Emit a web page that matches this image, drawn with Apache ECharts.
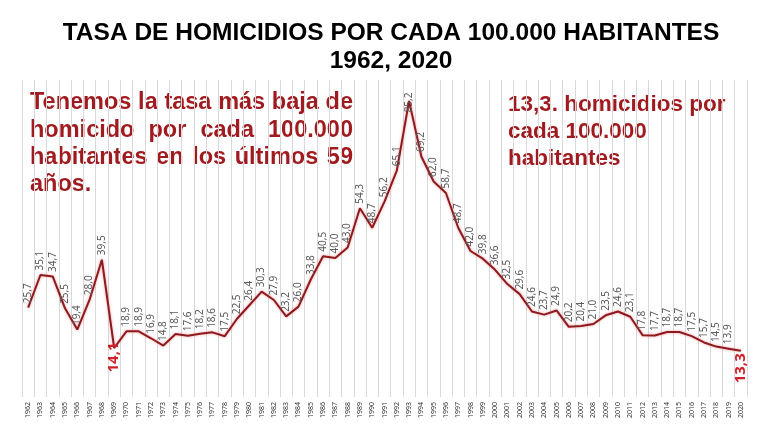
<!DOCTYPE html>
<html>
<head>
<meta charset="utf-8">
<script src="https://cdn.jsdelivr.net/npm/echarts@6/dist/echarts.min.js"></script>
<style>
html,body{margin:0;padding:0;background:#fff;}
#chart{width:765px;height:444px;}
</style>
</head>
<body>
<div id="chart"></div>
<script>
const years = ['1962','1963','1964','1965','1966','1967','1968','1969','1970','1971','1972','1973','1974','1975','1976','1977','1978','1979','1980','1981','1982','1983','1984','1985','1986','1987','1988','1989','1990','1991','1992','1993','1994','1995','1996','1997','1998','1999','2000','2001','2002','2003','2004','2005','2006','2007','2008','2009','2010','2011','2012','2013','2014','2015','2016','2017','2018','2019','2020'];
const rates = [25.7,35.1,34.7,25.5,19.4,28.0,39.5,14.1,18.9,18.9,16.9,14.8,18.1,17.6,18.2,18.6,17.5,22.5,26.4,30.3,27.9,23.2,26.0,33.8,40.5,40.0,43.0,54.3,48.7,56.2,65.1,85.2,69.2,62.0,58.7,48.7,42.0,39.8,36.6,32.5,29.6,24.6,23.7,24.9,20.2,20.4,21.0,23.5,24.6,23.1,17.8,17.7,18.7,18.7,17.5,15.7,14.5,13.9,13.3];
const highlightYears = ['1969','2020'];
const peakYear = '1993';

const titleText = 'TASA DE HOMICIDIOS POR CADA 100.000 HABITANTES\n1962, 2020';
const leftNoteLines = ['Tenemos la tasa más baja de','homicido por cada 100.000','habitantes en los últimos 59','años.'];
const rightNoteLines = ['13,3. homicidios por','cada 100.000','habitantes'];

const fmt = v => v.toFixed(1).replace('.', ',');
const noteColor = '#a01b20';

const seriesData = rates.map((v, i) => {
  const y = years[i];
  if (highlightYears.includes(y)) {
    return { value: v, label: { position: 'bottom', distance: y === '1969' ? -6 : 2, align: 'right', color: '#d0202a', fontWeight: 'bold', fontSize: 15, fontFamily: 'Noto Sans' } };
  }
  if (y === peakYear) {
    return { value: v, label: { distance: -12 } };
  }
  return v;
});

// justified text helper (layout only)
const cv = document.createElement('canvas').getContext('2d');
function noteElements(lines, x0, x1, baseline0, lineH, fontSize, justify) {
  const font = 'bold ' + fontSize + 'px "Liberation Sans", Arial, sans-serif';
  cv.font = font;
  const els = [];
  lines.forEach((line, li) => {
    const yMid = baseline0 + li * lineH - 0.35 * fontSize;
    const words = line.split(' ');
    const isLast = li === lines.length - 1;
    if (!justify || isLast || words.length < 2) {
      els.push({ type: 'text', x: x0, y: yMid, style: { text: line, font: font, fill: noteColor, textAlign: 'left', textVerticalAlign: 'middle', verticalAlign: 'middle' } });
      return;
    }
    const widths = words.map(w => cv.measureText(w).width);
    const total = widths.reduce((a, b) => a + b, 0);
    const gap = (x1 - x0 - total) / (words.length - 1);
    let x = x0;
    words.forEach((w, wi) => {
      els.push({ type: 'text', x: x, y: yMid, style: { text: w, font: font, fill: noteColor, textAlign: 'left', textVerticalAlign: 'middle', verticalAlign: 'middle' } });
      x += widths[wi] + gap;
    });
  });
  return els;
}

const chart = echarts.init(document.getElementById('chart'), null, { renderer: 'canvas' });
chart.setOption({
  backgroundColor: '#ffffff',
  animation: false,
  title: {
    text: titleText,
    left: 391,
    textAlign: 'center',
    top: 19,
    padding: 0,
    textStyle: { fontFamily: '"Liberation Sans", Arial, sans-serif', fontWeight: 'bold', fontSize: 24.5, lineHeight: 28, color: '#000' }
  },
  grid: { left: 22, right: 18, top: 80, bottom: 47 },
  xAxis: {
    type: 'category',
    data: years,
    boundaryGap: true,
    axisLine: { show: false },
    axisTick: { show: false },
    axisLabel: { rotate: 90, fontSize: 7, color: '#333', fontFamily: 'Noto Sans', margin: 5, interval: 0 },
    splitLine: { show: true, interval: 0, lineStyle: { color: '#d9d9d9', width: 1 } }
  },
  yAxis: { type: 'value', min: 0, max: 91.2, show: false, splitLine: { show: false } },
  series: [{
    type: 'line',
    data: seriesData,
    symbol: 'circle',
    symbolSize: 1,
    showSymbol: true,
    itemStyle: { color: 'rgba(0,0,0,0)' },
    lineStyle: { color: '#8e1a1f', width: 2, shadowColor: 'rgba(230,90,90,0.6)', shadowBlur: 3 },
    label: {
      show: true,
      position: 'top',
      distance: 4,
      rotate: 90,
      align: 'left',
      verticalAlign: 'middle',
      fontSize: 10,
      color: '#595959',
      fontFamily: 'Noto Sans',
      formatter: p => fmt(p.value)
    },
    labelLayout: { hideOverlap: false },
    z: 3
  }],
  graphic: [
    ...noteElements(leftNoteLines, 30, 353, 111, 27.4, 23.5, true),
    ...noteElements(rightNoteLines, 508, 725, 113, 27, 22.5, false)
  ]
});
</script>
</body>
</html>
